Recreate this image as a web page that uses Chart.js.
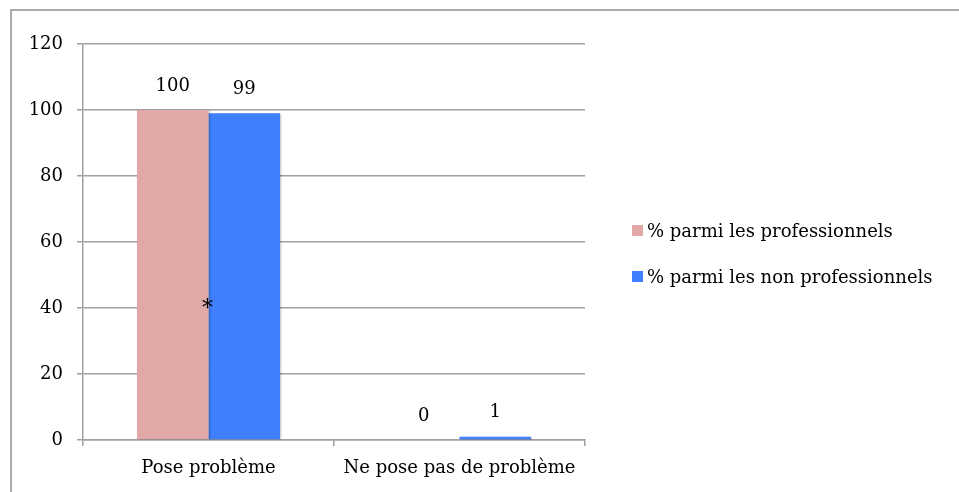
<!DOCTYPE html>
<html>
<head>
<meta charset="utf-8">
<script src="https://cdn.jsdelivr.net/npm/chart.js@4"></script>
<style>
  html, body { margin: 0; padding: 0; background: #fff; }
  #wrap { position: relative; width: 959px; height: 492px; overflow: hidden; }
  #frame { position: absolute; left: 10px; top: 9px; width: 1000px; height: 600px;
           border-top: 2px solid #ababab; border-left: 2px solid #ababab; }
  #qalChart { position: absolute; left: 0; top: 0; }
  #legend { position: absolute; left: 632px; top: 218px; font-family: "DejaVu Serif", serif;
            font-size: 18px; color: #000; }
  #legend div { height: 46px; line-height: 26px; white-space: nowrap; }
  #legend span.box { display: inline-block; width: 11px; height: 11px; margin-right: 4px;
                     vertical-align: 1px; }
</style>
</head>
<body>
<div id="wrap">
  <div id="frame"></div>
  <canvas id="qalChart" width="959" height="492"></canvas>
  <div id="legend"></div>
</div>
<script>
// data
const categories = ['Pose problème', 'Ne pose pas de problème'];
const seriesNames = ['% parmi les professionnels', '% parmi les non professionnels'];
const proValues = [100, 0];
const nonProValues = [99, 1];
const seriesColors = ['#E0A8A6', '#3F80FF'];
const yTicks = [0, 20, 40, 60, 80, 100, 120];
// significance mark: category index and value where the asterisk sits
const starCategory = 0;
const starValue = 41;

const serif = '"DejaVu Serif", serif';

// value labels above each bar + asterisk
const valueLabels = {
    id: 'valueLabels',
    beforeDatasetsDraw(chart) {
        const ctx = chart.ctx;
        ctx.save();
        ctx.shadowColor = 'rgba(0,0,0,0.25)';
        ctx.shadowOffsetX = 1;
        ctx.shadowOffsetY = 1;
        ctx.shadowBlur = 2;
    },
    afterDatasetsDraw(chart) {
        const ctx = chart.ctx;
        ctx.restore();
        ctx.save();
        ctx.font = '18px ' + serif;
        ctx.fillStyle = '#000';
        ctx.textAlign = 'center';
        ctx.textBaseline = 'middle';
        chart.data.datasets.forEach((ds, i) => {
            chart.getDatasetMeta(i).data.forEach((bar, j) => {
                ctx.fillText(String(ds.data[j]), bar.x, bar.y - 24);
            });
        });
        // asterisk
        const x = chart.scales.x.getPixelForValue(starCategory);
        const y = chart.scales.y.getPixelForValue(starValue);
        ctx.font = '22px ' + serif;
        ctx.fillText('*', x - 1, y + 5);
        ctx.restore();
    }
};

const ctx = document.getElementById('qalChart').getContext('2d');
const chart = new Chart(ctx, {
    type: 'bar',
    data: {
        labels: categories,
        datasets: [{
            label: seriesNames[0],
            data: proValues,
            backgroundColor: seriesColors[0],
            borderWidth: 0
        }, {
            label: seriesNames[1],
            data: nonProValues,
            backgroundColor: seriesColors[1],
            borderWidth: 0
        }]
    },
    options: {
        responsive: false,
        animation: false,
        layout: {
            padding: { left: 30, right: 374, top: 44, bottom: 0 }
        },
        datasets: {
            bar: {
                barPercentage: 1.0,
                categoryPercentage: 0.57
            }
        },
        plugins: {
            legend: { display: false },
            tooltip: { enabled: false }
        },
        scales: {
            x: {
                grid: {
                    drawOnChartArea: false,
                    color: '#a0a0a0',
                    lineWidth: 1.5,
                    tickLength: 6
                },
                border: { color: '#a0a0a0', width: 1.5 },
                ticks: {
                    color: '#000',
                    padding: 12,
                    font: { family: serif, size: 18 }
                },
                afterFit(s) { s.height = 52; }
            },
            y: {
                min: 0,
                max: 120,
                afterBuildTicks(s) { s.ticks = yTicks.map(v => ({ value: v })); },
                grid: {
                    color: '#a0a0a0',
                    lineWidth: 1.5,
                    tickLength: 6
                },
                border: { color: '#a0a0a0', width: 1.5 },
                ticks: {
                    color: '#000',
                    padding: 14,
                    font: { family: serif, size: 18 }
                },
                afterFit(s) { s.width = 53; }
            }
        }
    },
    plugins: [valueLabels]
});

// legend built from the same series arrays
const legend = document.getElementById('legend');
seriesNames.forEach((name, i) => {
    const row = document.createElement('div');
    const box = document.createElement('span');
    box.className = 'box';
    box.style.background = seriesColors[i];
    row.appendChild(box);
    row.appendChild(document.createTextNode(name));
    legend.appendChild(row);
});
</script>
</body>
</html>
